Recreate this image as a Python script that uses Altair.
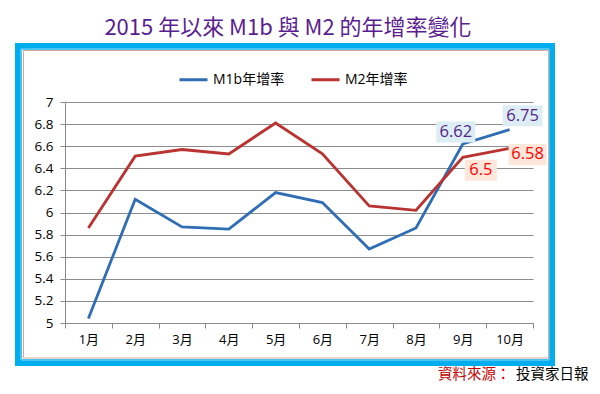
import altair as alt
import pandas as pd

# ---- data ----
months = ["1月", "2月", "3月", "4月", "5月", "6月", "7月", "8月", "9月", "10月"]
m1b = [5.04, 6.12, 5.87, 5.85, 6.18, 6.09, 5.67, 5.86, 6.62, 6.75]
m2 = [5.86, 6.51, 6.57, 6.53, 6.81, 6.53, 6.06, 6.02, 6.50, 6.58]
series_names = ["M1b年增率", "M2年增率"]
y_ticks = [5.0, 5.2, 5.4, 5.6, 5.8, 6.0, 6.2, 6.4, 6.6, 6.8, 7.0]
title_text = "2015 年以來 M1b 與 M2 的年增率變化"
source_label = "資料來源："
source_name = "投資家日報"

df = pd.DataFrame({
    "month": months * 2,
    "value": m1b + m2,
    "series": [series_names[0]] * len(months) + [series_names[1]] * len(months),
})

FONT = "Open Sans, Noto Sans CJK TC"
CJK = "Noto Sans CJK TC"
BLUE = "#2F6DB5"
RED = "#B93331"
PURPLE = "#55248A"
LABEL_RED = "#FF0000"

PW, PH = 468, 221  # plot area

x_enc = alt.X(
    "month:N", sort=months,
    scale=alt.Scale(type="band", paddingInner=0, paddingOuter=0),
    axis=alt.Axis(title=None, tickBand="extent", labelAngle=0, grid=False,
                  domainColor="#8A8A8A", tickColor="#8A8A8A", tickSize=5,
                  labelFont=FONT, labelFontSize=13, labelColor="#000000",
                  labelPadding=5),
)
y_enc = alt.Y(
    "value:Q",
    scale=alt.Scale(domain=[5, 7], nice=False, zero=False),
    axis=alt.Axis(title=None, values=y_ticks, format="~f", grid=True,
                  gridColor="#8C8C8C", gridWidth=1, domainColor="#8A8A8A",
                  tickColor="#8A8A8A", tickSize=5, labelFont=FONT,
                  labelFontSize=13.5, labelColor="#000000", labelPadding=7),
)

base = alt.Chart(df).encode(x=x_enc, y=y_enc)

lines = base.mark_line(strokeWidth=2.8).encode(
    color=alt.Color("series:N",
                    scale=alt.Scale(domain=series_names, range=[BLUE, RED]),
                    legend=alt.Legend(title=None, orient="none", direction="horizontal",
                                      legendX=113, legendY=-38, symbolType="stroke",
                                      symbolSize=784, symbolStrokeWidth=3,
                                      labelFont=FONT, labelFontSize=14,
                                      labelColor="#000000", columnPadding=20,
                                      labelOffset=4))
)


def box_path(halfh):
    return f"M-1,-{halfh} L1,-{halfh} L1,{halfh} L-1,{halfh} Z"


def label_layer(month, series, dx, dy, w, fill, color):
    sel = base.transform_filter(
        (alt.datum.month == month) & (alt.datum.series == series)
    )
    hh = round(21 / w, 3)
    bg = sel.mark_point(shape=box_path(hh), filled=True, size=w * w,
                        color=fill, opacity=1, strokeWidth=0,
                        xOffset=dx, yOffset=dy)
    txt = sel.mark_text(font=FONT, fontSize=16.5, color=color, dx=dx, dy=dy,
                        baseline="middle", align="center").encode(
        text=alt.Text("value:Q", format="~f"))
    return bg + txt


lab1 = label_layer("9月", series_names[0], -7, -12, 39, "#DCEEF4", PURPLE)
lab2 = label_layer("10月", series_names[0], 13, -14, 40, "#DCEEF4", PURPLE)
lab3 = label_layer("9月", series_names[1], 18, 13, 32, "#FCE7DA", LABEL_RED)
lab4 = label_layer("10月", series_names[1], 18, 6, 38, "#FCE7DA", LABEL_RED)

one = alt.Data(values=[{}])

frame_outer = alt.Chart(one).mark_rect(fill=None, stroke="#00AEEF", strokeWidth=7).encode(
    x=alt.value(-46.5), x2=alt.value(486.5), y=alt.value(-55.5), y2=alt.value(260.5))
frame_light = alt.Chart(one).mark_rect(fill=None, stroke="#8FD8F5", strokeWidth=1).encode(
    x=alt.value(-44), x2=alt.value(484), y=alt.value(-53), y2=alt.value(258))
frame_inner = alt.Chart(one).mark_rect(fill=None, stroke="#D4A99E", strokeWidth=1).encode(
    x=alt.value(-41.5), x2=alt.value(483.5), y=alt.value(-51.5), y2=alt.value(256))

title = alt.Chart(one).mark_text(font=CJK, fontSize=22, color="#5B1E91",
                                 align="center", baseline="middle").encode(
    x=alt.value(223), y=alt.value(-74), text=alt.value(title_text))

src1 = alt.Chart(one).mark_text(font=CJK, fontSize=14.5, color="#C00000",
                                align="left", baseline="middle").encode(
    x=alt.value(373), y=alt.value(273), text=alt.value(source_label))
src2 = alt.Chart(one).mark_text(font=CJK, fontSize=14.5, color="#000000",
                                align="left", baseline="middle").encode(
    x=alt.value(451), y=alt.value(273), text=alt.value(source_name))

chart = alt.layer(
    frame_outer, frame_light, frame_inner, title,
    lines, lab1, lab2, lab3, lab4, src1, src2,
).properties(
    width=PW, height=PH,
    autosize=alt.AutoSizeParams(type="none"),
    padding={"left": 57, "top": 94, "right": 59, "bottom": 63},
).configure_view(stroke=None)

chart.save("out.html", embed_options={"renderer": "svg", "actions": False})
